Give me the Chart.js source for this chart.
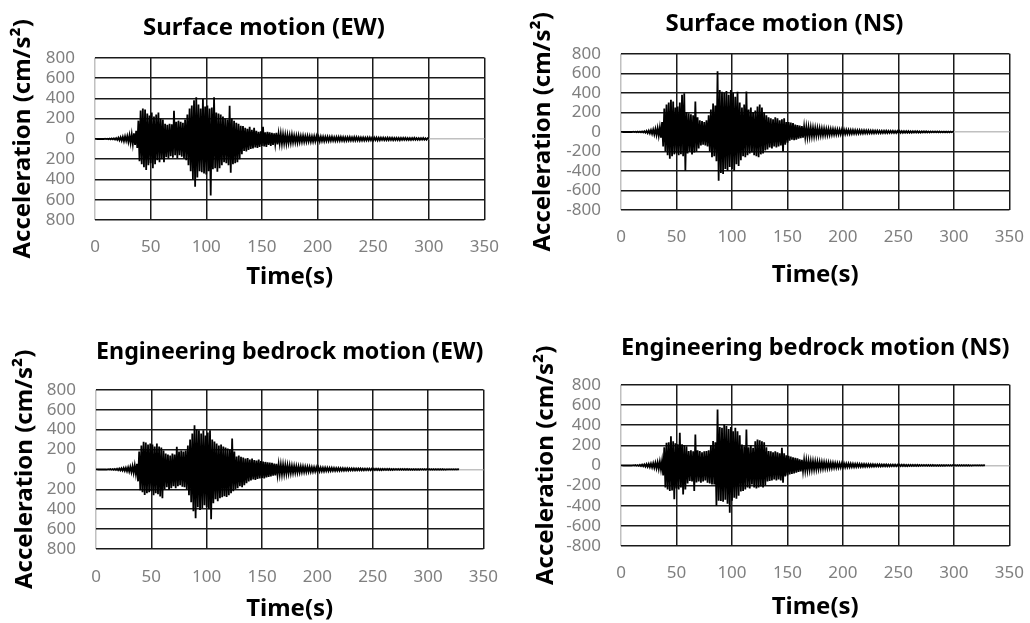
<!DOCTYPE html>
<html>
<head>
<meta charset="utf-8">
<script src="https://cdn.jsdelivr.net/npm/chart.js@4/dist/chart.umd.min.js"></script>
<style>
  html, body { margin: 0; padding: 0; background: #fff; overflow: hidden; width: 1030px; height: 623px; }
  canvas { position: absolute; }
</style>
</head>
<body>
<canvas id="surfEW" width="507" height="292" style="left:9px;top:0px"></canvas>
<canvas id="surfNS" width="512" height="290" style="left:529px;top:0px"></canvas>
<canvas id="rockEW" width="505" height="314" style="left:11px;top:310px"></canvas>
<canvas id="rockNS" width="509" height="312" style="left:532px;top:310px"></canvas>
<script>
// sampling interval of the digitised records (s)
var dt = 1;

var yTickValues = [-800, -600, -400, -200, 0, 200, 400, 600, 800];
var yLabelsEW = ['800', '600', '400', '200', '0', '200', '400', '600', '800'];
var yLabelsNS = ['-800', '-600', '-400', '-200', '0', '200', '400', '600', '800'];
var xTickValues = [0, 50, 100, 150, 200, 250, 300, 350];

// Surface motion (EW), cm/s2, one value per second, 0-300 s
var surfaceEW = [
  0, 1, -1, 1, -1, 1, -1, 1, -1, 2,
  -2, 2, -3, 3, -4, 4, -5, 6, -6, 8,
  -10, 12, -14, 16, -18, 20, -22, 25, -20, 28,
  -30, 35, -40, 45, -50, 55, -60, 80, -90, 180,
  -220, 280, -250, 300, -280, 290, -307, 250, -260, 230,
  -240, 260, -290, 220, -250, 240, -210, 260, -230, 200,
  -200, 190, -230, 150, -180, 140, -190, 150, -170, 145,
  -185, 277, -160, 170, -190, 180, -160, 170, -175, 160,
  -190, 190, -210, 240, -260, 300, -320, 330, -400, 380,
  -473, 410, -380, 340, -320, 300, -330, 393, -340, 320,
  -350, 330, -320, 300, -557, 310, -300, 410, -290, 260,
  -323, 250, -290, 240, -260, 220, -230, 200, -240, 190,
  -260, 327, -333, 200, -250, 180, -240, 160, -230, 150,
  -200, 130, -150, 127, -120, 110, -123, 100, -110, 120,
  -100, 90, -95, 110, -85, 80, -90, 70, -80, 75,
  -70, 120, -75, 65, -80, 70, -60, 65, -70, 60,
  -60, 55, -50, 60, -55, 50, -45, 50, -48, 45,
  -42, 40, -45, 38, -40, 35, -38, 40, -35, 32,
  -34, 30, -35, 32, -30, 28, -30, 30, -28, 26,
  -27, 28, -25, 26, -27, 24, -25, 26, -24, 25,
  -22, 20, -24, 22, -20, 21, -22, 20, -19, 20,
  -20, 18, -19, 20, -18, 17, -19, 18, -17, 18,
  -17, 18, -16, 17, -18, 16, -17, 16, -15, 17,
  -16, 15, -16, 17, -15, 16, -14, 15, -16, 14,
  -15, 14, -15, 13, -14, 15, -13, 14, -13, 12,
  -14, 13, -12, 13, -14, 12, -13, 12, -11, 12,
  -12, 11, -12, 13, -11, 12, -10, 11, -12, 10,
  -11, 10, -11, 10, -12, 10, -10, 11, -9, 10,
  -10, 9, -10, 9, -10, 9, -9, 10, -9, 8,
  -9, 8, -9, 8, -8, 9, -8, 7, -8, 7,
  0
];

// Surface motion (NS), 0-300 s
var surfaceNS = [
  0, 1, -1, 1, -1, 1, -1, 1, -1, 1,
  -1, 2, -2, 2, -3, 3, -3, 4, -4, 5,
  -6, 8, -8, 10, -12, 14, -15, 18, -20, 24,
  -26, 30, -32, 38, -40, 45, -60, 100, -150, 240,
  -200, 280, -240, 300, -275, 330, -250, 310, -230, 250,
  -220, 260, -240, 300, -230, 380, -250, 397, -400, 200,
  -220, 190, -200, 180, -230, 170, -210, 310, -200, 150,
  -170, 120, -140, 110, -130, 100, -140, 120, -150, 170,
  -200, 230, -260, 290, -250, 270, -300, 620, -500, 430,
  -420, 410, -430, 400, -380, 420, -400, 380, -360, 430,
  -380, 400, -400, 360, -330, 410, -350, 300, -290, 250,
  -250, 280, -260, 414, -240, 230, -220, 250, -210, 200,
  -240, 220, -250, 260, -260, 280, -230, 250, -220, 200,
  -190, 170, -180, 150, -160, 140, -170, 130, -150, 150,
  -160, 140, -150, 120, -140, 130, -200, 140, -130, 100,
  -110, 100, -90, 95, -80, 90, -85, 75, -80, 70,
  -70, 65, -65, 60, -60, 55, -55, 50, -52, 48,
  -48, 45, -45, 42, -44, 40, -40, 38, -38, 36,
  -36, 34, -35, 33, -33, 30, -32, 30, -30, 28,
  -28, 27, -27, 25, -26, 24, -25, 24, -23, 22,
  -22, 21, -22, 20, -20, 19, -20, 18, -19, 18,
  -18, 17, -18, 16, -17, 16, -16, 15, -16, 15,
  -15, 14, -15, 14, -14, 13, -14, 13, -13, 12,
  -13, 12, -12, 12, -12, 11, -12, 11, -11, 11,
  -11, 10, -11, 10, -10, 10, -10, 9, -10, 9,
  -9, 9, -9, 8, -9, 8, -8, 8, -8, 8,
  -8, 7, -8, 7, -7, 7, -7, 7, -7, 6,
  -7, 6, -6, 6, -6, 6, -6, 5, -6, 5,
  -5, 5, -5, 5, -5, 5, -5, 4, -5, 4,
  -4, 4, -4, 4, -4, 4, -4, 4, -4, 3,
  0
];

// Engineering bedrock motion (EW), 0-328 s
var bedrockEW = [
  0, 1, -1, 1, -1, 1, -1, 1, -1, 1,
  -2, 2, -2, 3, -3, 4, -4, 5, -6, 7,
  -8, 9, -10, 11, -12, 14, -15, 16, -18, 20,
  -22, 25, -28, 32, -36, 40, -45, 55, -120, 180,
  -210, 240, -230, 277, -257, 270, -240, 250, -230, 260,
  -220, 250, -260, 230, -240, 260, -250, 230, -273, 220,
  -290, 190, -200, 160, -180, 150, -207, 140, -190, 160,
  -170, 150, -190, 227, -170, 180, -160, 190, -173, 180,
  -180, 190, -200, 240, -260, 300, -330, 360, -420, 443,
  -490, 400, -380, 393, -407, 360, -390, 393, -360, 340,
  -380, 370, -400, 393, -500, 300, -340, 280, -300, 260,
  -320, 240, -290, 250, -280, 230, -270, 220, -277, 210,
  -260, 200, -240, 310, -220, 180, -200, 130, -190, 140,
  -170, 127, -180, 120, -160, 110, -140, 115, -120, 100,
  -110, 110, -100, 95, -105, 90, -95, 100, -90, 85,
  -85, 80, -90, 75, -80, 70, -75, 68, -70, 65,
  -62, 58, -60, 55, -55, 52, -50, 48, -50, 46,
  -45, 43, -42, 40, -40, 38, -38, 36, -35, 34,
  -33, 32, -32, 30, -30, 29, -28, 28, -27, 26,
  -26, 25, -24, 24, -23, 22, -22, 21, -21, 20,
  -20, 19, -19, 18, -18, 17, -18, 17, -16, 16,
  -16, 15, -15, 15, -14, 14, -14, 13, -13, 13,
  -13, 12, -12, 12, -12, 11, -11, 11, -11, 10,
  -10, 10, -10, 10, -10, 9, -9, 9, -9, 9,
  -9, 8, -9, 8, -8, 8, -8, 8, -8, 7,
  -8, 7, -7, 7, -7, 7, -7, 6, -7, 6,
  -6, 6, -6, 6, -6, 6, -6, 5, -6, 5,
  -5, 5, -5, 5, -5, 5, -5, 5, -5, 4,
  -5, 4, -4, 4, -4, 4, -4, 4, -4, 4,
  -4, 4, -4, 3, -4, 3, -3, 3, -3, 3,
  -3, 3, -3, 3, -3, 3, -3, 3, -3, 3,
  -3, 3, -3, 3, -3, 2, -3, 2, -2, 2,
  -2, 2, -2, 2, -2, 2, -2, 2, 0
];

// Engineering bedrock motion (NS), 0-328 s
var bedrockNS = [
  0, 1, -1, 1, -1, 1, -1, 1, -1, 1,
  -1, 2, -2, 3, -3, 4, -5, 6, -7, 8,
  -9, 10, -12, 13, -14, 15, -17, 18, -20, 22,
  -24, 26, -28, 30, -34, 38, -40, 45, -100, 180,
  -220, 225, -240, 230, -255, 290, -250, 240, -337, 220,
  -230, 210, -238, 324, -220, 210, -288, 200, -240, 190,
  -180, 142, -155, 150, -160, 140, -255, 307, -170, 150,
  -160, 142, -172, 130, -160, 140, -150, 142, -172, 150,
  -180, 200, -190, 241, -190, 230, -400, 555, -350, 380,
  -354, 373, -360, 406, -340, 390, -380, 360, -470, 380,
  -350, 340, -320, 374, -330, 340, -300, 300, -260, 208,
  -255, 190, -240, 357, -220, 180, -230, 200, -190, 175,
  -220, 240, -230, 258, -220, 250, -210, 240, -220, 230,
  -200, 180, -160, 142, -155, 140, -150, 130, -140, 140,
  -150, 130, -140, 120, -150, 175, -172, 120, -110, 100,
  -100, 95, -90, 88, -85, 80, -80, 75, -72, 70,
  -65, 60, -60, 56, -55, 52, -50, 48, -48, 45,
  -44, 42, -42, 40, -40, 38, -38, 36, -35, 34,
  -33, 32, -31, 30, -30, 29, -28, 28, -27, 26,
  -25, 25, -24, 23, -23, 22, -22, 21, -21, 20,
  -20, 19, -19, 18, -18, 18, -17, 17, -16, 16,
  -16, 15, -15, 15, -14, 14, -14, 13, -13, 13,
  -13, 12, -12, 12, -12, 11, -11, 11, -11, 10,
  -10, 10, -10, 10, -10, 9, -9, 9, -9, 9,
  -9, 8, -9, 8, -8, 8, -8, 8, -8, 7,
  -8, 7, -7, 7, -7, 7, -7, 6, -7, 6,
  -6, 6, -6, 6, -6, 6, -6, 5, -6, 5,
  -5, 5, -5, 5, -5, 5, -5, 5, -5, 4,
  -5, 4, -4, 4, -4, 4, -4, 4, -4, 4,
  -4, 4, -4, 3, -4, 3, -3, 3, -3, 3,
  -3, 3, -3, 3, -3, 3, -3, 3, -3, 3,
  -3, 3, -3, 3, -3, 2, -3, 2, -2, 2,
  -2, 2, -2, 2, -2, 2, -2, 2, 0
];

var FONT = "'Noto Sans', 'DejaVu Sans', sans-serif";
var GRID = '#1a1a1a';
var AXIS = '#c0c0c0';
var TICK = '#7f7f7f';

function toPoints(values) {
    return values.map(function (v, i) { return { x: i * dt, y: v }; });
}

// Top row: padLeft shifts the full-width title box so it centres where the original
// one does, and the y title is pulled back with a negative padding.
// Bottom row: the title is centred over the plot area (fullSize false).
function createWaveChart(id, cfg) {
    var el = document.getElementById(id);
    var chartData = {
        type: 'line',
        data: {
            datasets: [
                {
                    label: cfg.title,
                    data: toPoints(cfg.values),
                    borderColor: '#000',
                    backgroundColor: '#000',
                    borderWidth: 1.8,
                    pointRadius: 0,
                    tension: 0,
                    fill: 'origin'
                }
            ]
        },
        options: {
            responsive: false,
            animation: false,
            parsing: false,
            layout: { padding: { left: cfg.padLeft, right: 30, top: 0, bottom: 0 } },
            plugins: {
                legend: { display: false },
                tooltip: { enabled: false },
                title: {
                    display: true,
                    fullSize: cfg.fullTitle,
                    text: cfg.title,
                    color: '#000',
                    font: { family: FONT, size: 24, weight: 'bold' },
                    padding: { top: cfg.titleTop, bottom: cfg.titleBottom }
                }
            },
            scales: {
                x: {
                    type: 'linear',
                    min: 0,
                    max: 350,
                    afterBuildTicks: function (axis) {
                        axis.ticks = xTickValues.map(function (v) { return { value: v }; });
                    },
                    afterFit: function (axis) { axis.height = cfg.xHeight; },
                    grid: {
                        drawTicks: false,
                        lineWidth: 1.5,
                        color: function (c) { return c.tick && c.tick.value === 0 ? AXIS : GRID; }
                    },
                    border: { display: false },
                    ticks: {
                        color: TICK,
                        padding: cfg.xTickPad,
                        maxRotation: 0,
                        autoSkip: false,
                        font: { family: FONT, size: 17 }
                    },
                    title: {
                        display: true,
                        text: 'Time(s)',
                        color: '#000',
                        font: { family: FONT, size: 24, weight: 'bold' },
                        padding: 0
                    }
                },
                y: {
                    min: -800,
                    max: 800,
                    afterBuildTicks: function (axis) {
                        axis.ticks = yTickValues.map(function (v) { return { value: v }; });
                    },
                    afterFit: function (axis) { axis.width = cfg.yWidth; },
                    grid: {
                        drawTicks: false,
                        lineWidth: 1.5,
                        color: function (c) { return c.tick && c.tick.value === 0 ? AXIS : GRID; }
                    },
                    border: { display: false },
                    ticks: {
                        color: TICK,
                        padding: 20,
                        autoSkip: false,
                        font: { family: FONT, size: 17 },
                        callback: function (v) {
                            return cfg.yLabels[yTickValues.indexOf(v)];
                        }
                    },
                    title: {
                        display: true,
                        text: 'Acceleration (cm/s\u00B2)',
                        color: '#000',
                        font: { family: FONT, size: 24, weight: 'bold' },
                        padding: { top: cfg.yTitlePad, bottom: 0 }
                    }
                }
            }
        }
    };
    return new Chart(el.getContext('2d'), chartData);
}

createWaveChart('surfEW', {
    title: 'Surface motion (EW)', values: surfaceEW, yLabels: yLabelsEW, fullTitle: true,
    padLeft: 33, yWidth: 53, yTitlePad: -33.4,
    xHeight: 72, xTickPad: 17, titleTop: 14, titleBottom: 15
});
createWaveChart('surfNS', {
    title: 'Surface motion (NS)', values: surfaceNS, yLabels: yLabelsNS, fullTitle: true,
    padLeft: 29, yWidth: 63, yTitlePad: -29.4,
    xHeight: 80, xTickPad: 17, titleTop: 10, titleBottom: 15
});
createWaveChart('rockEW', {
    title: 'Engineering bedrock motion (EW)', values: bedrockEW, yLabels: yLabelsEW, fullTitle: false,
    padLeft: 0, yWidth: 85, yTitlePad: 0,
    xHeight: 75, xTickPad: 18, titleTop: 28, titleBottom: 23
});
createWaveChart('rockNS', {
    title: 'Engineering bedrock motion (NS)', values: bedrockNS, yLabels: yLabelsNS, fullTitle: false,
    padLeft: 0, yWidth: 89, yTitlePad: 0,
    xHeight: 76, xTickPad: 17, titleTop: 24, titleBottom: 22
});
</script>
</body>
</html>
